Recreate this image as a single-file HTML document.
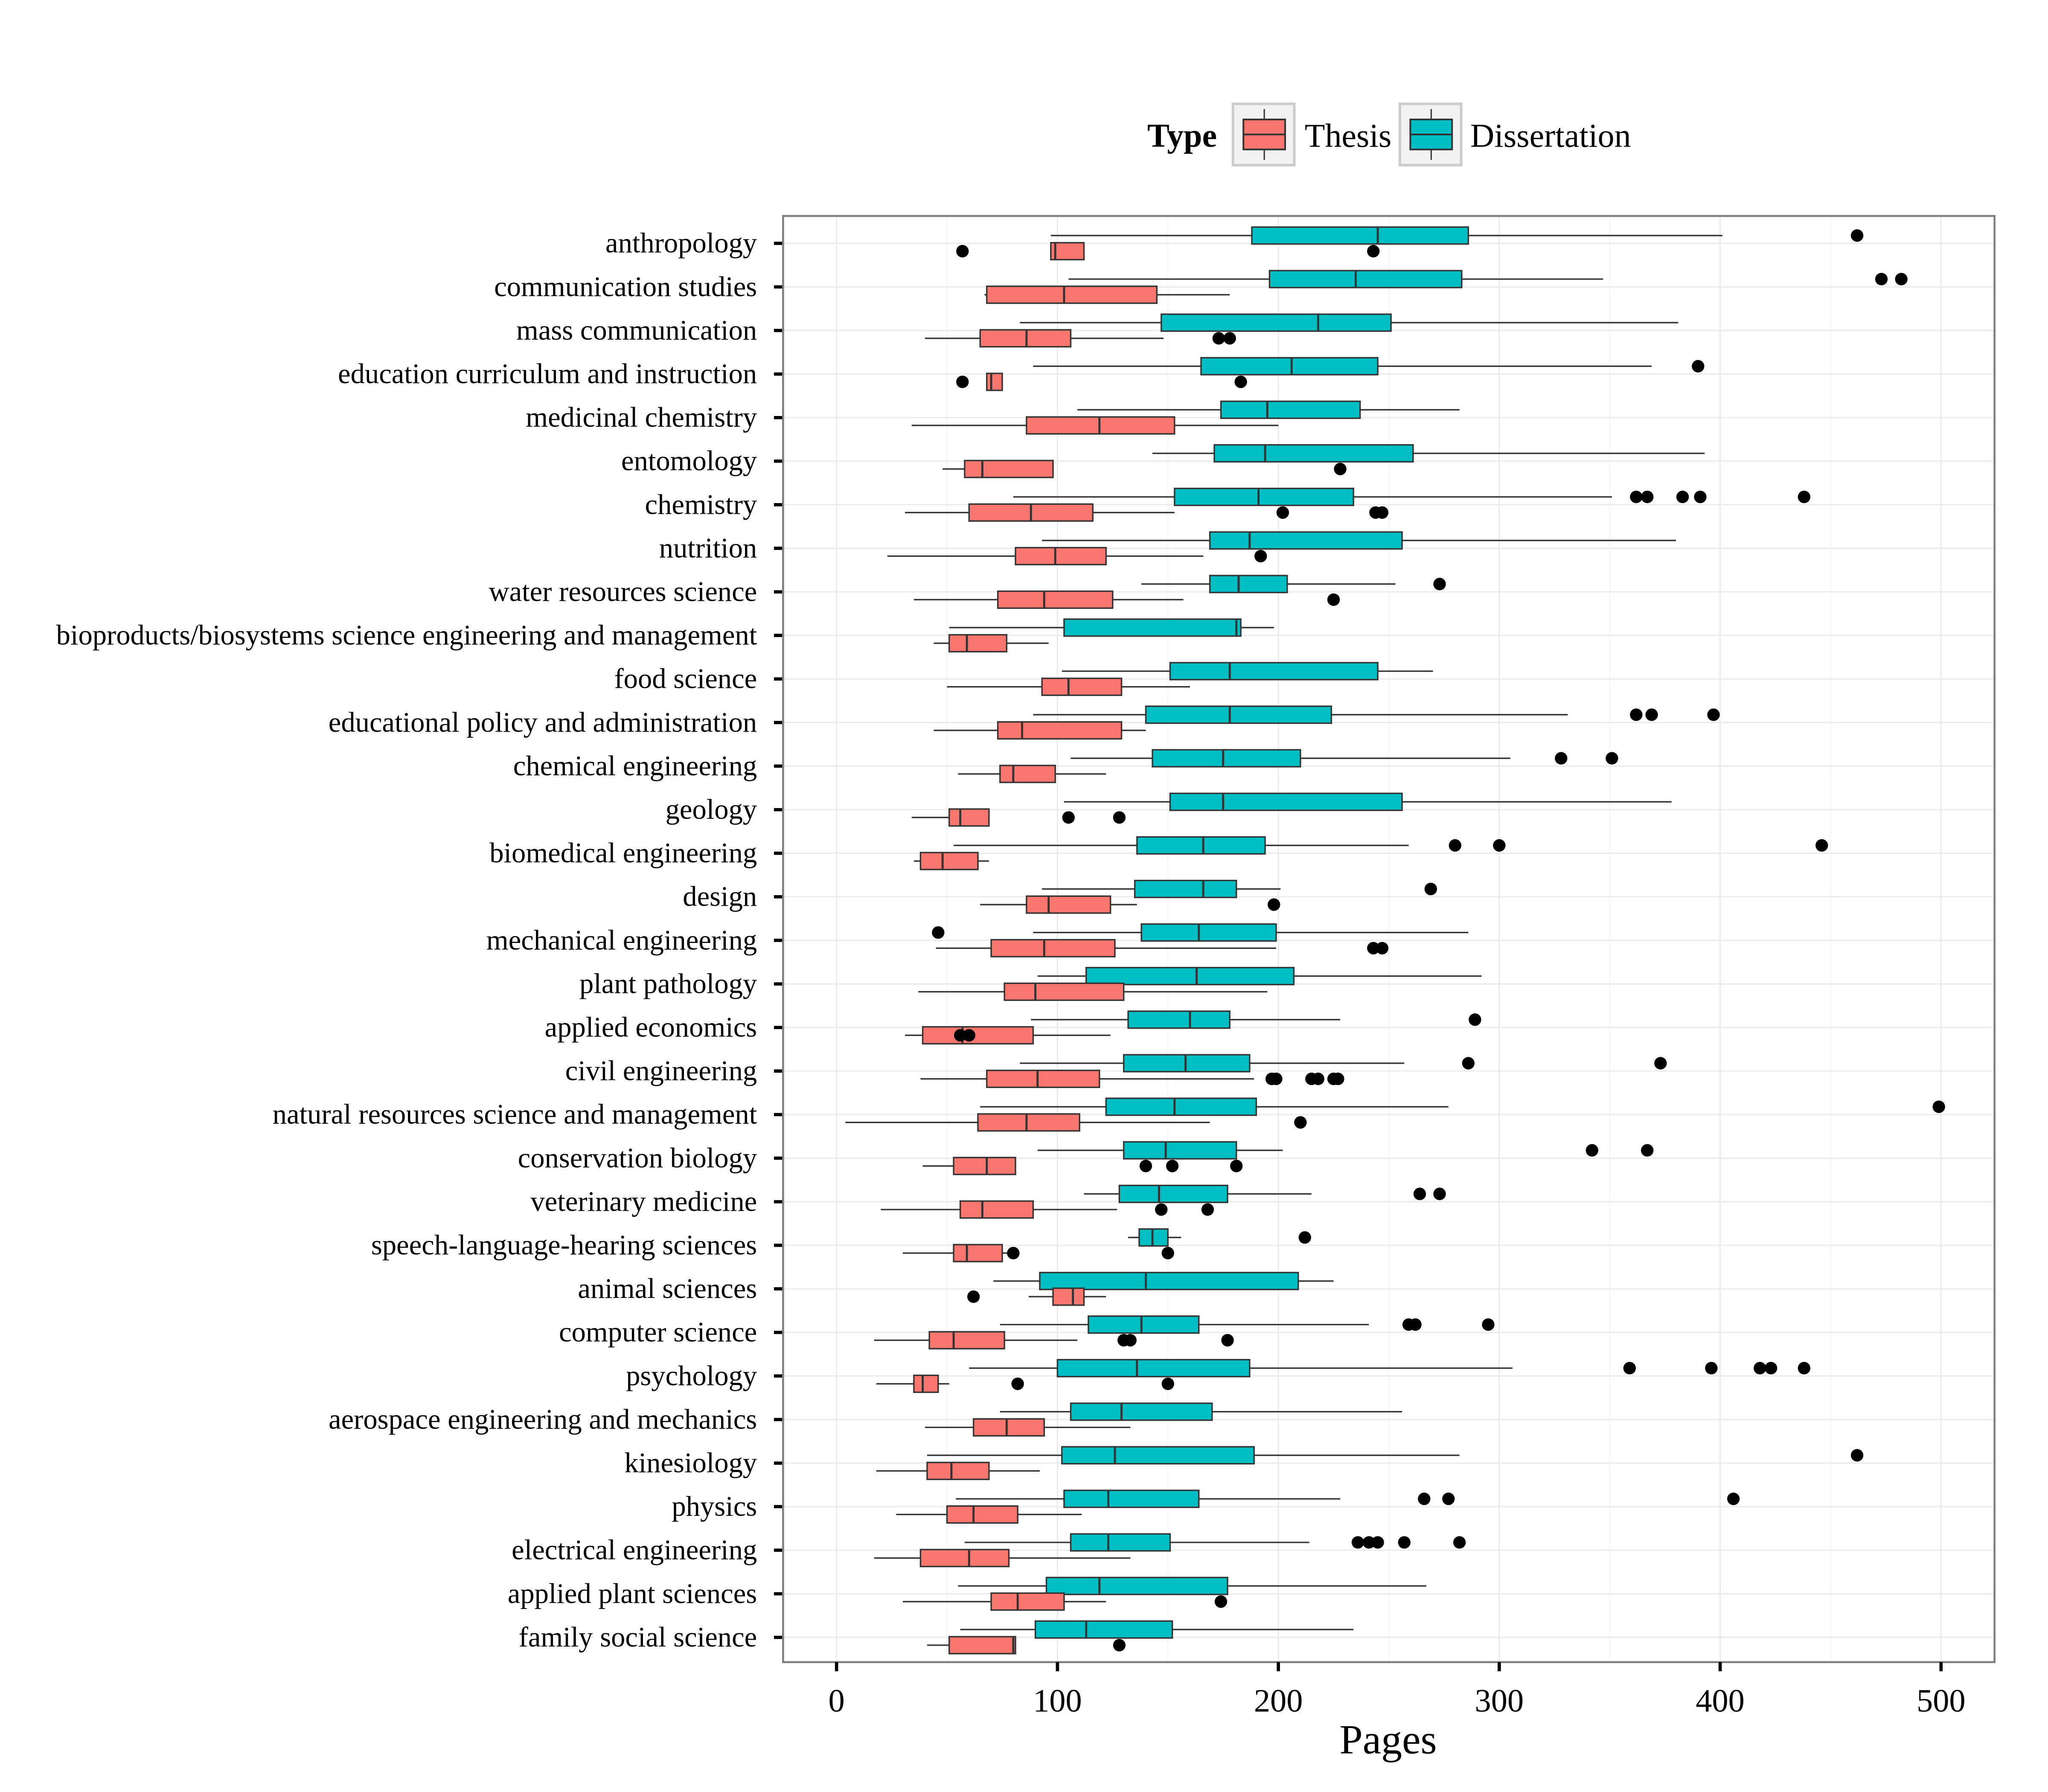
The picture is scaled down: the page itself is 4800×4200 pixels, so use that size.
<!DOCTYPE html>
<html><head><meta charset="utf-8"><style>html,body{margin:0;padding:0;background:#fff}svg{display:block}</style></head>
<body>
<svg id="chart" width="4800" height="4200" viewBox="0 0 1552 1358" xmlns="http://www.w3.org/2000/svg" font-family="'Liberation Serif', serif">
<rect x="0" y="0" width="1552" height="1358" fill="#fff"/>
<g transform="translate(1.5,1.6) scale(0.9882)">
<g id="legend">
<text x="905" y="111" text-anchor="middle" font-size="25.5" font-weight="bold">Type</text>
<g>
<rect x="944" y="78" width="47" height="47" fill="#f2f2f2" stroke="#ccc" stroke-width="2"/>
<line x1="968" y1="82" x2="968" y2="121" stroke="#333" stroke-width="1"/>
<rect x="952" y="90" width="32" height="23" fill="#F8766D" stroke="#333" stroke-width="1.3"/>
<line x1="952" y1="101.5" x2="984" y2="101.5" stroke="#333" stroke-width="1.3"/>
<text x="999" y="111" font-size="25.5">Thesis</text>
</g>
<g>
<rect x="1072" y="78" width="47" height="47" fill="#f2f2f2" stroke="#ccc" stroke-width="2"/>
<line x1="1096" y1="82" x2="1096" y2="121" stroke="#333" stroke-width="1"/>
<rect x="1080" y="90" width="32" height="23" fill="#00BFC4" stroke="#333" stroke-width="1.3"/>
<line x1="1080" y1="101.5" x2="1112" y2="101.5" stroke="#333" stroke-width="1.3"/>
<text x="1126" y="111" font-size="25.5">Dissertation</text>
</g>
</g>
<g id="plot"></g>
</g>
</svg>
<script>
const categories = ["anthropology","communication studies","mass communication","education curriculum and instruction","medicinal chemistry","entomology","chemistry","nutrition","water resources science","bioproducts/biosystems science engineering and management","food science","educational policy and administration","chemical engineering","geology","biomedical engineering","design","mechanical engineering","plant pathology","applied economics","civil engineering","natural resources science and management","conservation biology","veterinary medicine","speech-language-hearing sciences","animal sciences","computer science","psychology","aerospace engineering and mechanics","kinesiology","physics","electrical engineering","applied plant sciences","family social science"];
// [whiskerLow, q1, median, q3, whiskerHigh]
const dissStats = [[97,188,245,286,401],[105,196,235,283,347],[83,147,218,251,381],[89,165,206,245,369],[109,174,195,237,282],[143,171,194,261,393],[80,153,191,234,351],[93,169,187,256,380],[138,169,182,204,253],[51,103,181,183,198],[102,151,178,245,270],[89,140,178,224,331],[106,143,175,210,305],[103,151,175,256,378],[53,136,166,194,259],[93,135,166,181,201],[89,138,164,199,286],[91,113,163,207,292],[88,132,160,178,228],[83,130,158,187,257],[65,122,153,190,277],[91,130,149,181,202],[112,128,146,177,215],[132,137,143,150,156],[71,92,140,209,225],[74,114,138,164,241],[60,100,136,187,306],[74,106,129,170,256],[41,102,126,189,282],[54,103,123,164,228],[58,106,123,151,214],[55,95,119,177,267],[56,90,113,152,234]];
const thesisStats = [[97,97,99,112,112],[67,68,103,145,178],[40,65,86,106,148],[68,68,70,75,75],[34,86,119,153,200],[48,58,66,98,98],[31,60,88,116,153],[23,81,99,122,166],[35,73,94,125,157],[44,51,59,77,96],[50,93,105,129,160],[44,73,84,129,140],[55,74,80,99,122],[34,51,56,69,69],[35,38,48,64,69],[65,86,96,124,136],[45,70,94,126,199],[37,76,90,130,195],[31,39,57,89,124],[38,68,91,119,189],[4,64,86,110,169],[39,53,68,81,81],[20,56,66,89,127],[30,53,59,75,82],[87,98,107,112,122],[17,42,53,76,109],[18,35,39,46,51],[40,62,77,94,133],[18,41,52,69,92],[27,50,62,82,111],[17,38,60,78,133],[30,70,82,103,122],[41,51,80,81,81]];
const dissOutliers = [[462],[473,482],[],[390],[],[],[362,367,383,391,438],[],[273],[],[],[362,369,397],[328,351],[],[280,300,446],[269],[46],[],[289],[286,373],[499],[342,367],[264,273],[212],[],[259,262,295],[359,396,418,423,438],[],[462],[266,277,406],[236,241,245,257,282],[],[]];
const thesisOutliers = [[57,243],[],[173,178],[57,183],[],[228],[202,244,247],[192],[225],[],[],[],[],[105,128],[],[198],[243,247],[],[56,60],[197,199,215,218,225,227],[210],[140,152,181],[147,168],[80,150],[62],[130,133,177],[82,150],[],[],[],[],[174],[128]];
const xTicks = [0,100,200,300,400,500];
const xTickLabels = ["0","100","200","300","400","500"];

const NS="http://www.w3.org/2000/svg";
const L=599,R=1528,T=164,B=1273;
function xs(v){return 640+v*(1487-640)/500;}
function ys(i){return 185+i*(1254-185)/(categories.length-1);}
const g=document.getElementById('plot');
function mk(tag,attrs,parent){const e=document.createElementNS(NS,tag);for(const k in attrs)e.setAttribute(k,attrs[k]);(parent||g).appendChild(e);return e;}
const panel=mk('rect',{x:L,y:T,width:R-L,height:B-T,fill:'#fff'});


for(let v=50;v<=500;v+=100){const l=mk('line',{x1:xs(v),x2:xs(v),y1:T,y2:B,stroke:'#f5f5f5','stroke-width':0.8});

}
xTicks.forEach(v=>{const l=mk('line',{x1:xs(v),x2:xs(v),y1:T,y2:B,stroke:'#ebebeb','stroke-width':1});

});
categories.forEach((c,i)=>{const l=mk('line',{x1:L,x2:R,y1:ys(i),y2:ys(i),stroke:'#ebebeb','stroke-width':1});

});
function drawBox(s,outs,yc,fill,name){
  const grp=mk('g',{});
  
  
  const h=13;
  mk('line',{x1:xs(s[0]),x2:xs(s[1]),y1:yc,y2:yc,stroke:'#333','stroke-width':1.1},grp);
  mk('line',{x1:xs(s[3]),x2:xs(s[4]),y1:yc,y2:yc,stroke:'#333','stroke-width':1.1},grp);
  mk('rect',{x:xs(s[1]),y:yc-h/2,width:Math.max(0.5,xs(s[3])-xs(s[1])),height:h,fill:fill,stroke:'#333','stroke-width':1.1},grp);
  mk('line',{x1:xs(s[2]),x2:xs(s[2]),y1:yc-h/2,y2:yc+h/2,stroke:'#333','stroke-width':1.6},grp);
  outs.forEach(o=>{const p=mk('circle',{cx:xs(o),cy:yc,r:4.8,fill:'#000'},grp);
  
  });
}
categories.forEach((c,i)=>{
  drawBox(dissStats[i],dissOutliers[i],ys(i)-6,'#00BFC4','dissertation-box');
  drawBox(thesisStats[i],thesisOutliers[i],ys(i)+6,'#F8766D','thesis-box');
  const t=mk('text',{x:579,y:ys(i)+7,'text-anchor':'end','font-size':21.8,fill:'#000'});
  t.textContent=c;
  
  
  const tk=mk('line',{x1:592,x2:599,y1:ys(i),y2:ys(i),stroke:'#000','stroke-width':2.5});
  
  
});
const border=mk('rect',{x:L,y:T,width:R-L,height:B-T,fill:'none',stroke:'#7f7f7f','stroke-width':1.5});


xTicks.forEach((v,i)=>{
  const tk=mk('line',{x1:xs(v),x2:xs(v),y1:B,y2:B+7,stroke:'#000','stroke-width':2.5});
  
  
  const t=mk('text',{x:xs(v),y:1311,'text-anchor':'middle','font-size':25});
  t.textContent=xTickLabels[i];
  
  
});
const xt=mk('text',{x:1063,y:1343,'text-anchor':'middle','font-size':32});
xt.textContent='Pages';


</script>
</body></html>
